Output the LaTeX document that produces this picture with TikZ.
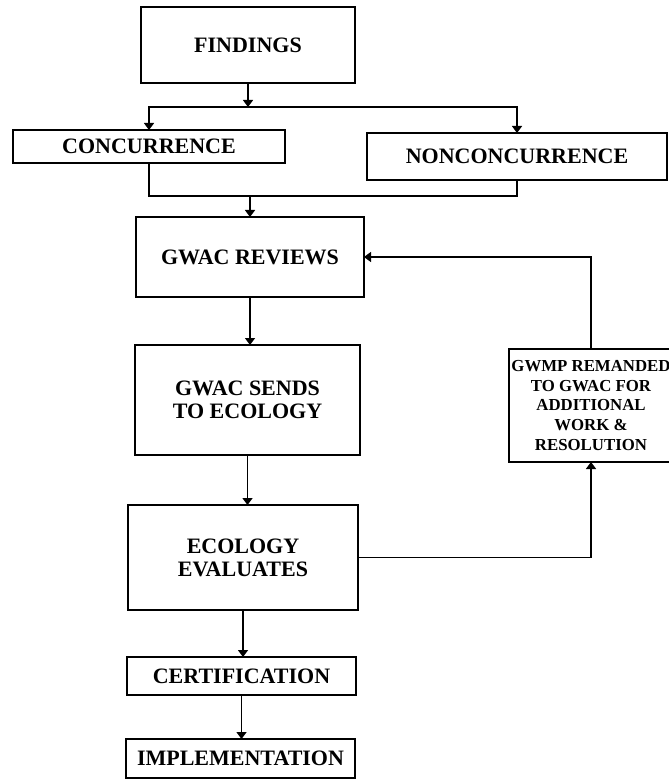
\documentclass[tikz,border=0pt]{standalone}
\usepackage{fontspec}
\setmainfont{Liberation Serif}
\usetikzlibrary{arrows.meta,positioning}

\tikzset{
  stage/.style={draw,line width=1.3pt,inner sep=0pt,outer sep=0pt,align=center,
    font=\fontsize{11}{11.5}\selectfont\bfseries},
  flow/.style={line width=0.7pt,-{Triangle[width=5pt,length=3.5pt]}},
  link/.style={line width=0.7pt}
}

\begin{document}
\begin{tikzpicture}[x=0.5pt,y=-0.5pt]
\useasboundingbox (0,0) rectangle (668,780);

% Main column
\node[stage,minimum width=107pt,minimum height=38pt] (findings) at (248,45) {FINDINGS};
\node[stage,minimum width=136pt,minimum height=16.5pt] (concur) at (149,146.5) {CONCURRENCE};
\node[stage,minimum width=150pt,minimum height=23.5pt] (nonconcur) at (517,156.5) {NONCONCURRENCE};
\node[stage,minimum width=114pt,minimum height=40pt] (reviews) at (250,257) {GWAC REVIEWS};
\node[stage,minimum width=112.5pt,minimum height=55pt] (sends) at (247.5,400) {GWAC SENDS\\TO ECOLOGY};
\node[stage,minimum width=115pt,minimum height=52.5pt] (evaluates) at (243,557.5) {ECOLOGY\\EVALUATES};
\node[stage,minimum width=114.5pt,minimum height=19pt] (cert) at (241.5,676) {CERTIFICATION};
\node[stage,minimum width=114.5pt,minimum height=19.5pt] (impl) at (240.5,758.5) {IMPLEMENTATION};

% Feedback box
\node[stage,minimum width=82pt,minimum height=56.5pt,
  font=\fontsize{8.4}{9.8}\selectfont\bfseries] (remand) at (591,405.5)
  {GWMP REMANDED\\TO GWAC FOR\\ADDITIONAL\\WORK \&\\RESOLUTION};

% Split and merge
\coordinate (split) at (250,107);
\coordinate (merge) at (248,196);
\draw[flow] (findings.south) -- (findings.south |- split);
\draw[flow] (findings.south |- split) -| (concur.north);
\draw[flow] (findings.south |- split) -| (nonconcur.north);
\draw[link] (concur.south) |- (nonconcur.south |- merge) -- (nonconcur.south);
\draw[flow] (reviews.north |- merge) -- (reviews.north);

% Down the column
\draw[flow] (reviews.south) -- (reviews.south |- sends.north);
\draw[flow] (sends.south) -- (sends.south |- evaluates.north);
\draw[flow] (evaluates.south) -- (evaluates.south |- cert.north);
\draw[flow] (cert.south) -- (cert.south |- impl.north);

% Loop back
\draw[flow] (evaluates.east) -| (remand.south);
\draw[flow] (remand.north) |- (reviews.east);
\end{tikzpicture}
\end{document}
